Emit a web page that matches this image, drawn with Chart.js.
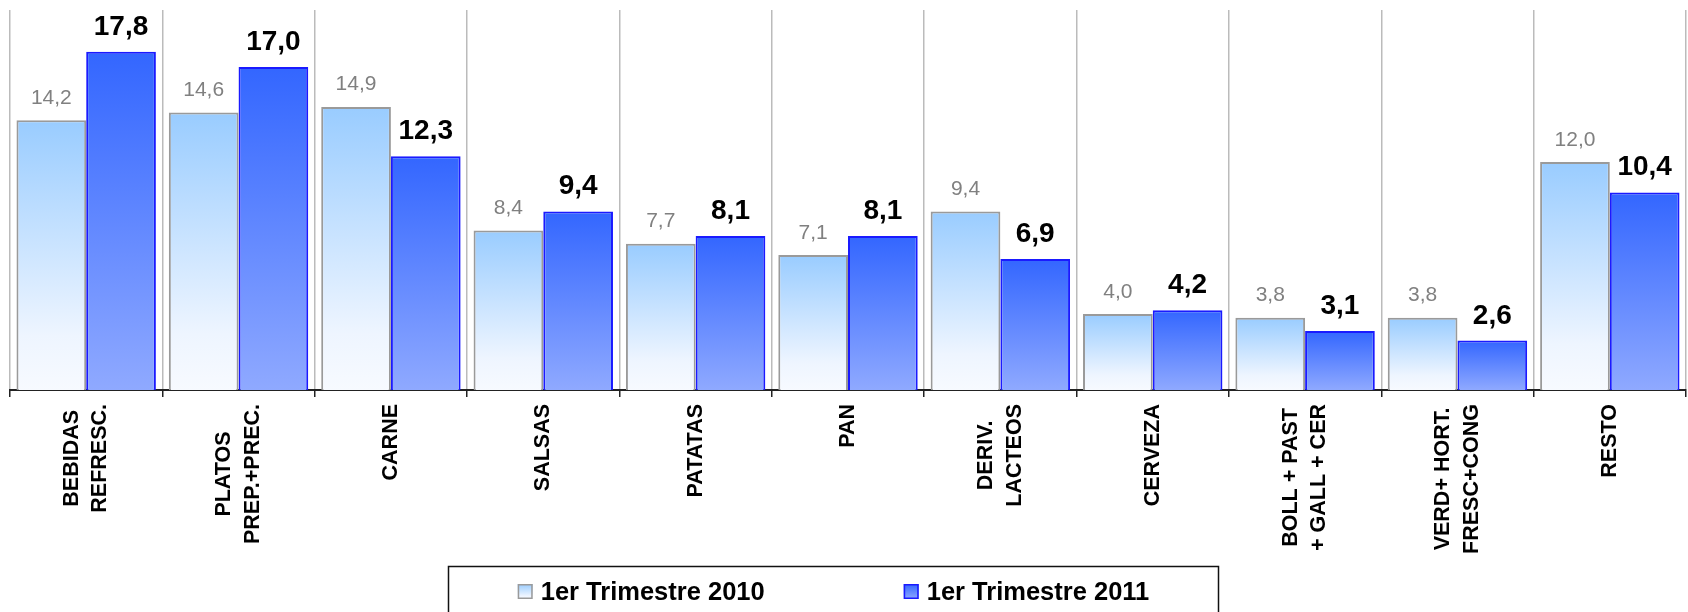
<!DOCTYPE html>
<html>
<head>
<meta charset="utf-8">
<script src="https://cdn.jsdelivr.net/npm/chart.js@4.4.0/dist/chart.umd.min.js"></script>
<style>
    html, body { margin: 0; padding: 0; background: #fff; }
    #wrap { width: 1688px; height: 612px; }
</style>
</head>
<body>
<div id="wrap"><canvas id="ventas"></canvas></div>
<script>
var categorias = [
    ["BEBIDAS", "REFRESC."],
    ["PLATOS", "PREP.+PREC."],
    ["CARNE"],
    ["SALSAS"],
    ["PATATAS"],
    ["PAN"],
    ["DERIV.", "LACTEOS"],
    ["CERVEZA"],
    ["BOLL + PAST", "+ GALL + CER"],
    ["VERD+ HORT.", "FRESC+CONG"],
    ["RESTO"]
];
var series = ["1er Trimestre 2010", "1er Trimestre 2011"];
var trimestre2010 = [14.2, 14.6, 14.9, 8.4, 7.7, 7.1, 9.4, 4.0, 3.8, 3.8, 12.0];
var trimestre2011 = [17.8, 17.0, 12.3, 9.4, 8.1, 8.1, 6.9, 4.2, 3.1, 2.6, 10.4];

var FUENTE = '"Liberation Sans", Arial, sans-serif';

// colour stops for the vertical fill of each bar (top -> bottom)
var degradadoClaro = [[0, '#99ccff'], [0.8, '#eef5ff'], [1, '#f7faff']];
var degradadoOscuro = [[0, '#3366ff'], [1, '#8fa9ff']];

// value label style per series
var estiloValor = [
    { font: '21px ' + FUENTE, color: '#808080', gap: 16.5 },
    { font: 'bold 28px ' + FUENTE, color: '#000000', gap: 17 }
];

function degradado(ctx, top, bottom, stops) {
    var g = ctx.createLinearGradient(0, top, 0, bottom);
    stops.forEach(function (s) { g.addColorStop(s[0], s[1]); });
    return g;
}

function relleno(stops) {
    return function (c) {
        var chart = c.chart;
        if (!chart.chartArea || c.type !== 'data') return stops[0][1];
        var y = chart.scales.y;
        return degradado(chart.ctx, y.getPixelForValue(c.parsed.y), y.getPixelForValue(0), stops);
    };
}

function formato(v) {
    return v.toFixed(1).replace('.', ',');
}

// numbers above the bars
var etiquetasValor = {
    id: 'etiquetasValor',
    afterDatasetsDraw: function (chart) {
        var ctx = chart.ctx;
        chart.data.datasets.forEach(function (ds, i) {
            var meta = chart.getDatasetMeta(i);
            var st = estiloValor[i];
            ctx.save();
            ctx.font = st.font;
            ctx.fillStyle = st.color;
            ctx.textAlign = 'center';
            ctx.textBaseline = 'alphabetic';
            meta.data.forEach(function (bar, j) {
                ctx.fillText(formato(ds.data[j]), bar.x, bar.y - st.gap);
            });
            ctx.restore();
        });
    }
};

// vertical category names, lines centred on each other
var etiquetasCategoria = {
    id: 'etiquetasCategoria',
    afterDraw: function (chart) {
        var x = chart.scales.x, ctx = chart.ctx;
        var top = x.top + 14;
        ctx.save();
        ctx.font = 'bold 21.5px ' + FUENTE;
        ctx.fillStyle = '#000';
        ctx.textAlign = 'center';
        ctx.textBaseline = 'middle';
        chart.data.labels.forEach(function (lineas, i) {
            var cx = x.getPixelForValue(i);
            var ancho = Math.max.apply(null, lineas.map(function (l) { return ctx.measureText(l).width; }));
            ctx.save();
            ctx.translate(cx, top + ancho / 2);
            ctx.rotate(-Math.PI / 2);
            lineas.forEach(function (l, k) {
                ctx.fillText(l, 0, (k - (lineas.length - 1) / 2) * 28.6);
            });
            ctx.restore();
        });
        ctx.restore();
    }
};

// boxed legend at the bottom
var leyenda = {
    id: 'leyenda',
    afterDraw: function (chart) {
        var ctx = chart.ctx;
        var caja = { left: 448.5, top: 566.5, width: 770 };
        var marca = 15, hueco = 8, separacion = 139;
        ctx.save();
        ctx.lineWidth = 1.5;
        ctx.strokeStyle = '#111';
        ctx.strokeRect(caja.left, caja.top, caja.width, 80);

        ctx.font = 'bold 25.5px ' + FUENTE;
        var items = chart.data.datasets.map(function (ds) {
            return { ds: ds, w: marca + hueco + ctx.measureText(ds.label).width };
        });
        var total = items.reduce(function (s, it) { return s + it.w; }, 0) + separacion * (items.length - 1);
        var x = caja.left + caja.width / 2 - total / 2;
        var base = 599.5;
        items.forEach(function (it) {
            var mTop = base - 15.5;
            ctx.fillStyle = degradado(ctx, mTop, mTop + marca, it.ds.marcaStops);
            ctx.fillRect(x, mTop, marca, marca);
            ctx.lineWidth = 1.5;
            ctx.strokeStyle = it.ds.borderColor;
            ctx.strokeRect(x + 0.75, mTop + 0.75, marca - 1.5, marca - 1.5);
            ctx.fillStyle = '#000';
            ctx.textAlign = 'left';
            ctx.textBaseline = 'alphabetic';
            ctx.fillText(it.ds.label, x + marca + hueco, base);
            x += it.w + separacion;
        });
        ctx.restore();
    }
};

var ctx = document.getElementById('ventas').getContext('2d');
var chart = new Chart(ctx, {
    type: 'bar',
    data: {
        labels: categorias,
        datasets: [{
            label: series[0],
            data: trimestre2010,
            backgroundColor: relleno(degradadoClaro),
            borderColor: '#9a9a9a',
            borderWidth: 2,
            marcaStops: degradadoClaro
        }, {
            label: series[1],
            data: trimestre2011,
            backgroundColor: relleno(degradadoOscuro),
            borderColor: '#1a1aff',
            borderWidth: 2,
            marcaStops: degradadoOscuro
        }]
    },
    options: {
        responsive: true,
        maintainAspectRatio: false,
        animation: false,
        categoryPercentage: 0.915,
        barPercentage: 1.0,
        layout: { padding: { top: 10, left: 10, right: 2, bottom: 52 } },
        plugins: {
            legend: { display: false },
            tooltip: { enabled: false }
        },
        scales: {
            x: {
                offset: true,
                grid: {
                    offset: true,
                    color: '#bbbbbb',
                    lineWidth: 1.5,
                    drawTicks: true,
                    tickLength: 7,
                    tickColor: '#222',
                    tickWidth: 1.5
                },
                border: { display: true, color: '#222', width: 2 },
                ticks: { display: false },
                afterFit: function (scale) { scale.height = 170; }
            },
            y: {
                display: false,
                min: 0,
                max: 20
            }
        }
    },
    plugins: [etiquetasValor, etiquetasCategoria, leyenda]
});
</script>
</body>
</html>
